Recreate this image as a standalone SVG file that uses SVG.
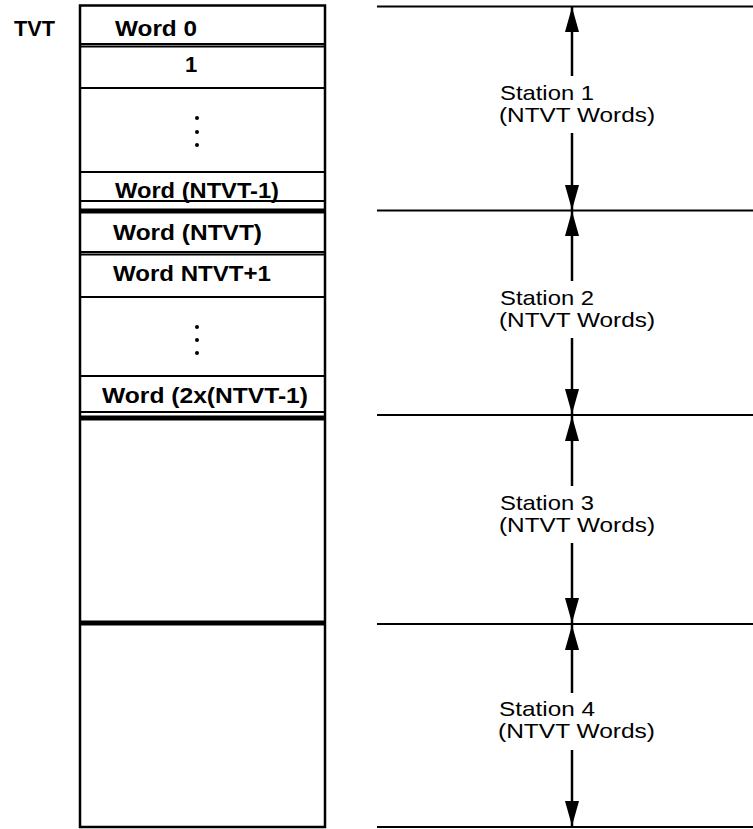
<svg xmlns="http://www.w3.org/2000/svg" width="753" height="829" viewBox="0 0 753 829">
  <style>
    .bg { fill: #ffffff; }
    .rule { stroke: #000; stroke-width: 2; fill: none; }
    .bar { stroke: #000; stroke-width: 5; fill: none; }
    .frame { stroke: #000; stroke-width: 2.5; fill: none; }
    .dim { stroke: #000; stroke-width: 2.5; fill: none; marker-end: url(#head); }
    .cell { font-family: "Liberation Sans", Arial, sans-serif; font-size: 22px; font-weight: bold; fill: #000; }
    .label { font-family: "Liberation Sans", Arial, sans-serif; font-size: 21px; fill: #000; }
    .dot { fill: #000; }
  </style>
  <defs>
    <marker id="head" markerUnits="userSpaceOnUse" markerWidth="26" markerHeight="16" refX="25" refY="7" orient="auto">
      <path d="M0,0 L25,7 L0,14 z" fill="#000"/>
    </marker>
  </defs>

  <rect class="bg" x="0" y="0" width="753" height="829"/>

  <text class="cell" x="14" y="36" textLength="41" lengthAdjust="spacingAndGlyphs">TVT</text>

  <!-- word table -->
  <g id="table">
    <rect class="frame" x="80" y="5.5" width="245" height="821.5"/>
    <line class="rule" x1="80" y1="44" x2="325" y2="44"/>
    <line class="rule" x1="80" y1="46.5" x2="325" y2="46.5" stroke-width="1"/>
    <line class="rule" x1="80" y1="88" x2="325" y2="88"/>
    <line class="rule" x1="80" y1="172" x2="325" y2="172"/>
    <line class="rule" x1="80" y1="201" x2="325" y2="201"/>
    <line class="bar" x1="80" y1="211" x2="325" y2="211"/>
    <line class="rule" x1="80" y1="252" x2="325" y2="252"/>
    <line class="rule" x1="80" y1="254.5" x2="325" y2="254.5" stroke-width="1"/>
    <line class="rule" x1="80" y1="297" x2="325" y2="297"/>
    <line class="rule" x1="80" y1="376" x2="325" y2="376"/>
    <line class="rule" x1="80" y1="412" x2="325" y2="412"/>
    <line class="bar" x1="80" y1="418" x2="325" y2="418"/>
    <line class="bar" x1="80" y1="623" x2="325" y2="623"/>
  </g>

  <g id="word-0"><text class="cell" x="115" y="36" textLength="82" lengthAdjust="spacingAndGlyphs">Word  0</text></g>
  <g id="word-1"><text class="cell" x="185" y="72">1</text></g>
  <g id="gap-1">
    <circle class="dot" cx="197" cy="118" r="2"/>
    <circle class="dot" cx="197" cy="132" r="2"/>
    <circle class="dot" cx="197" cy="145" r="2"/>
  </g>
  <g id="word-ntvt-1"><text class="cell" x="115" y="198" textLength="164" lengthAdjust="spacingAndGlyphs">Word (NTVT-1)</text></g>
  <g id="word-ntvt"><text class="cell" x="113" y="240" textLength="149" lengthAdjust="spacingAndGlyphs">Word (NTVT)</text></g>
  <g id="word-ntvt-plus-1"><text class="cell" x="113" y="281" textLength="158" lengthAdjust="spacingAndGlyphs">Word NTVT+1</text></g>
  <g id="gap-2">
    <circle class="dot" cx="197" cy="327" r="2"/>
    <circle class="dot" cx="197" cy="340" r="2"/>
    <circle class="dot" cx="197" cy="353" r="2"/>
  </g>
  <g id="word-2x"><text class="cell" x="102" y="403" textLength="206" lengthAdjust="spacingAndGlyphs">Word (2x(NTVT-1)</text></g>

  <!-- station boundaries -->
  <g id="boundaries">
    <line class="rule" x1="377" y1="6.5" x2="753" y2="6.5"/>
    <line class="rule" x1="377" y1="210.5" x2="753" y2="210.5"/>
    <line class="rule" x1="377" y1="415" x2="753" y2="415"/>
    <line class="rule" x1="377" y1="624" x2="753" y2="624"/>
    <line class="rule" x1="377" y1="827" x2="753" y2="827"/>
  </g>

  <!-- extent arrows -->
  <g id="connectors">
    <path class="dim" d="M572,76 L572,7"/>
    <path class="dim" d="M572,133 L572,210"/>
    <path class="dim" d="M572,281 L572,211"/>
    <path class="dim" d="M572,338 L572,414"/>
    <path class="dim" d="M572,486 L572,416"/>
    <path class="dim" d="M572,543 L572,623"/>
    <path class="dim" d="M572,693 L572,625"/>
    <path class="dim" d="M572,750 L572,826"/>
  </g>

  <g id="station-1">
    <text class="label" x="500" y="100" textLength="94" lengthAdjust="spacingAndGlyphs">Station 1</text>
    <text class="label" x="499" y="122" textLength="156" lengthAdjust="spacingAndGlyphs">(NTVT Words)</text>
  </g>
  <g id="station-2">
    <text class="label" x="500" y="305" textLength="94" lengthAdjust="spacingAndGlyphs">Station 2</text>
    <text class="label" x="499" y="327" textLength="156" lengthAdjust="spacingAndGlyphs">(NTVT Words)</text>
  </g>
  <g id="station-3">
    <text class="label" x="500" y="510" textLength="94" lengthAdjust="spacingAndGlyphs">Station 3</text>
    <text class="label" x="499" y="532" textLength="156" lengthAdjust="spacingAndGlyphs">(NTVT Words)</text>
  </g>
  <g id="station-4">
    <text class="label" x="499" y="716" textLength="96" lengthAdjust="spacingAndGlyphs">Station 4</text>
    <text class="label" x="498" y="738" textLength="157" lengthAdjust="spacingAndGlyphs">(NTVT Words)</text>
  </g>
</svg>
